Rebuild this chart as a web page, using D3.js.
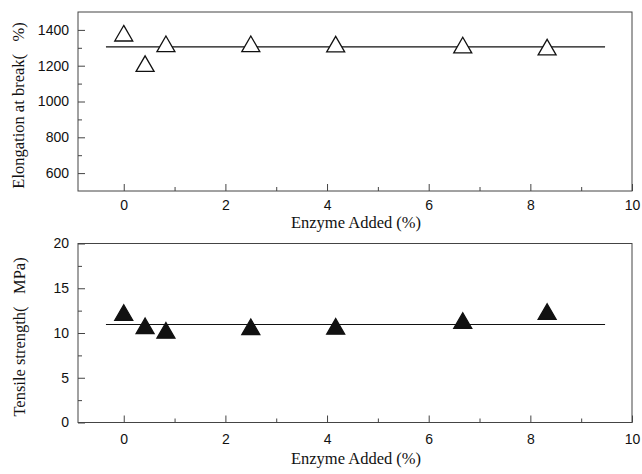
<!DOCTYPE html>
<html>
<head>
<meta charset="utf-8">
<script src="https://cdn.jsdelivr.net/npm/d3@7"></script>
<style>
  body { margin: 0; background: #fff; }
  .tick text { font-family: "Liberation Sans", Arial, sans-serif; font-size: 14px; fill: #111; }
  .tick line { stroke: #444; }
  .title { font-family: "Liberation Serif", "Times New Roman", serif; font-size: 16.5px; fill: #111; white-space: pre; }
</style>
</head>
<body>
<script>
// datos
const enzyme = [0, 0.42, 0.83, 2.5, 4.17, 6.67, 8.33];
const elongation = [1367, 1197, 1308, 1308, 1306, 1301, 1289];
const tensile = [12.0, 10.5, 10.0, 10.4, 10.45, 11.1, 12.1];

// lineas de ajuste (valor medio)
const fitRange = [-0.35, 9.47];
const elongationFit = 1305;
const tensileFit = 10.95;

// ticks
const xTicks = [0, 2, 4, 6, 8, 10];
const xMinor = [1, 3, 5, 7, 9];
const elongTicks = [600, 800, 1000, 1200, 1400];
const elongMinor = [700, 900, 1100, 1300];
const tensileTicks = [0, 5, 10, 15, 20];
const tensileMinor = [2.5, 7.5, 12.5, 17.5];

const width = 642;
const height = 474;
const left = 78, right = 632;

const svg = d3.select("body")
    .append("svg")
    .attr("width", width)
    .attr("height", height);

const xScale = d3.scaleLinear()
    .domain([-0.9, 10])
    .range([left, right]);

// dibuja un panel completo
function panel(opts) {
    const yScale = d3.scaleLinear()
        .domain(opts.domain)
        .range([opts.bottom, opts.top]);

    const g = svg.append("g");

    // eje X
    g.append("g")
        .attr("transform", `translate(0,${opts.bottom})`)
        .call(d3.axisBottom(xScale).tickValues(xTicks).tickFormat(d3.format("d"))
            .tickSizeInner(-7).tickSizeOuter(0).tickPadding(opts.xPad))
        .call(a => a.select(".domain").remove());
    g.append("g")
        .attr("transform", `translate(0,${opts.bottom})`)
        .call(d3.axisBottom(xScale).tickValues(xMinor).tickSizeInner(-4).tickSizeOuter(0).tickFormat(""))
        .call(a => a.select(".domain").remove());

    // eje Y
    g.append("g")
        .attr("transform", `translate(${left},0)`)
        .call(d3.axisLeft(yScale).tickValues(opts.ticks).tickFormat(d3.format("d"))
            .tickSizeInner(-7).tickSizeOuter(0).tickPadding(9))
        .call(a => a.select(".domain").remove());
    g.append("g")
        .attr("transform", `translate(${left},0)`)
        .call(d3.axisLeft(yScale).tickValues(opts.minor).tickSizeInner(-4).tickSizeOuter(0).tickFormat(""))
        .call(a => a.select(".domain").remove());

    // marco
    g.append("rect")
        .attr("x", left)
        .attr("y", opts.top)
        .attr("width", right - left)
        .attr("height", opts.bottom - opts.top)
        .attr("fill", "none")
        .attr("stroke", "#444")
        .attr("stroke-width", 1);

    // linea de ajuste
    g.append("line")
        .attr("x1", xScale(fitRange[0]))
        .attr("x2", xScale(fitRange[1]))
        .attr("y1", yScale(opts.fit))
        .attr("y2", yScale(opts.fit))
        .attr("stroke", "#111")
        .attr("stroke-width", 1.1);

    // triangulos
    g.selectAll("path.pt")
        .data(opts.values)
        .enter()
        .append("path")
        .attr("class", "pt")
        .attr("d", d3.symbol(d3.symbolTriangle, 140))
        .attr("transform", (d, i) => `translate(${xScale(enzyme[i])},${yScale(d)})`)
        .attr("fill", opts.filled ? "#111" : "#fff")
        .attr("stroke", "#111")
        .attr("stroke-width", 1.3);

    // titulos
    g.append("text")
        .attr("class", "title")
        .attr("transform", `translate(${opts.yTitleX},${(opts.top + opts.bottom) / 2 + 4}) rotate(-90)`)
        .attr("text-anchor", "middle")
        .text(opts.yTitle);

    g.append("text")
        .attr("class", "title")
        .attr("x", 356)
        .attr("y", opts.xTitleY)
        .attr("text-anchor", "middle")
        .text("Enzyme Added (%)");
}

panel({
    top: 12, bottom: 191,
    domain: [500, 1500],
    ticks: elongTicks, minor: elongMinor,
    values: elongation, fit: elongationFit, filled: false,
    xPad: 9.5, xTitleY: 228,
    yTitle: "Elongation at break(   %)", yTitleX: 24
});

panel({
    top: 243.5, bottom: 422.5,
    domain: [0, 20],
    ticks: tensileTicks, minor: tensileMinor,
    values: tensile, fit: tensileFit, filled: true,
    xPad: 11.5, xTitleY: 464,
    yTitle: "Tensile strength(   MPa)", yTitleX: 25
});
</script>
</body>
</html>
